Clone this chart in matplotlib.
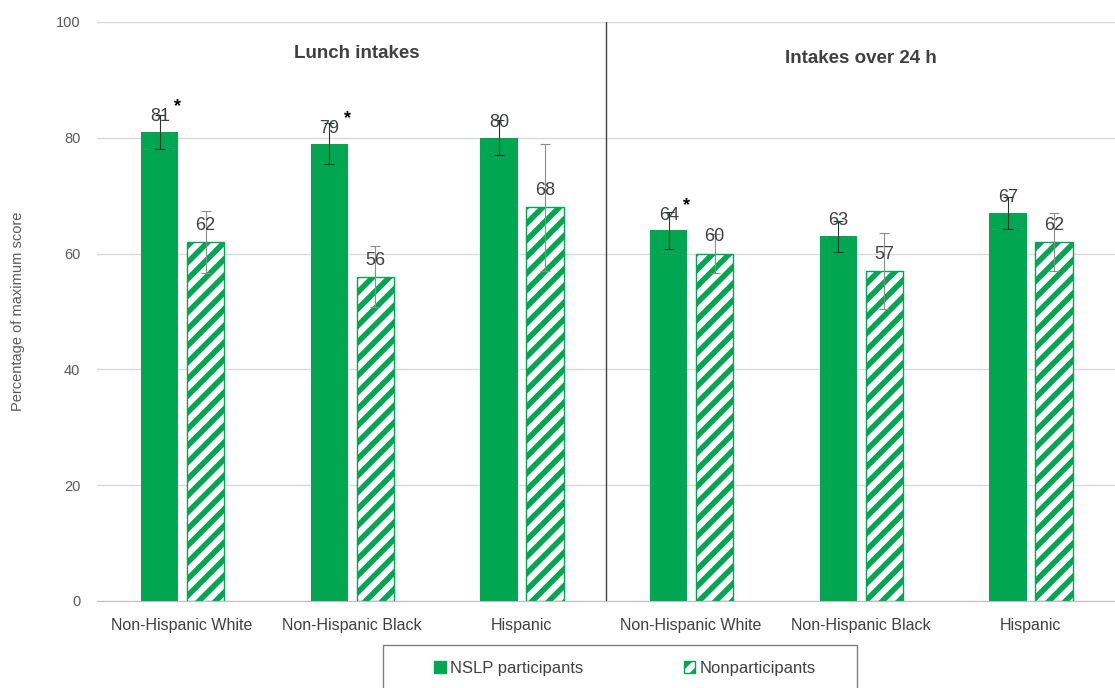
import matplotlib.pyplot as plt
import numpy as np
from matplotlib.patches import Rectangle, Patch

plt.rcParams['font.family'] = ['Liberation Sans', 'DejaVu Sans']
plt.rcParams['hatch.linewidth'] = 4

groups = ['Non-Hispanic White', 'Non-Hispanic Black', 'Hispanic',
          'Non-Hispanic White', 'Non-Hispanic Black', 'Hispanic']
nslp = [81, 79, 80, 64, 63, 67]
nslp_err = [3, 3.5, 3, 3.2, 2.7, 2.8]
nonpart = [62, 56, 68, 60, 57, 62]
nonpart_err = [5.4, 5.3, 11, 3.4, 6.6, 5]
signif = [True, True, False, True, False, False]
panel_titles = ['Lunch intakes', 'Intakes over 24 h']

green = '#00a651'
txt = '#404040'

fig = plt.figure(figsize=(11.15, 6.88), dpi=100)
ax = fig.add_axes([0.087, 0.1265, 0.913, 0.8416])

x = np.arange(len(groups))
w = 0.22
off = 0.14
ax.bar(x - off + 0.01, nslp, w, color=green, zorder=2)
ax.bar(x + off, nonpart, w, color='white', edgecolor=green, hatch='//',
       linewidth=1, zorder=2)
ax.errorbar(x - off + 0.01, nslp, yerr=nslp_err, fmt='none', ecolor='#1a3a2a',
            elinewidth=0.8, capsize=3.5, capthick=0.8, zorder=3)
ax.errorbar(x + off, nonpart, yerr=nonpart_err, fmt='none', ecolor='#8c8c8c',
            elinewidth=0.8, capsize=3.5, capthick=0.8, zorder=3)

for i in range(len(groups)):
    ax.annotate(str(nslp[i]), (x[i] - off + 0.01, nslp[i]), xytext=(0, 11),
                textcoords='offset points', ha='center', va='center',
                fontsize=13, color=txt, zorder=4)
    ax.annotate(str(nonpart[i]), (x[i] + off, nonpart[i]), xytext=(0, 12),
                textcoords='offset points', ha='center', va='center',
                fontsize=13, color=txt, zorder=4)
    if signif[i]:
        ax.annotate('*', (x[i] - off + 0.01, nslp[i]), xytext=(13, 18),
                    textcoords='offset points', ha='center', va='center',
                    fontsize=13, fontweight='bold', color='black', zorder=4)

ax.axvline(2.5, color='#404040', linewidth=1, zorder=1)
ax.text(1.03, 94.5, panel_titles[0], ha='center', va='center', fontsize=13.5,
        fontweight='bold', color=txt)
ax.text(4, 93.7, panel_titles[1], ha='center', va='center', fontsize=13.5,
        fontweight='bold', color=txt)

ax.set_xlim(-0.5, 5.5)
ax.set_ylim(0, 100)
ax.set_yticks(range(0, 101, 20))
ax.set_xticks(x)
ax.set_xticklabels(groups, fontsize=11.5, color=txt)
ax.tick_params(axis='y', length=0, labelsize=10.5, labelcolor='#595959', pad=12)
ax.tick_params(axis='x', length=0, pad=12)
ax.grid(axis='y', color='#d9d9d9', linewidth=1, zorder=0)
ax.set_axisbelow(True)
for s in ['top', 'right', 'left']:
    ax.spines[s].set_visible(False)
ax.spines['bottom'].set_color('#bfbfbf')
ax.set_ylabel('Percentage of maximum score', fontsize=10.5, color='#595959',
              labelpad=22)

fig.patches.append(Rectangle((383 / 1115, -0.05), 474 / 1115, 43 / 688 + 0.05,
                             transform=fig.transFigure, fill=False,
                             edgecolor='#808080', linewidth=1))
handles = [Patch(facecolor=green, edgecolor=green),
           Patch(facecolor='white', edgecolor=green, hatch='//')]
fig.legend(handles, ['NSLP participants', 'Nonparticipants'], loc='center',
           bbox_to_anchor=(625 / 1115, 1 - 668 / 688), ncol=2, frameon=False,
           fontsize=12, handlelength=0.7, handleheight=0.7, handletextpad=0.25,
           columnspacing=6, labelcolor=txt)

fig.savefig('out.png', dpi=100)
